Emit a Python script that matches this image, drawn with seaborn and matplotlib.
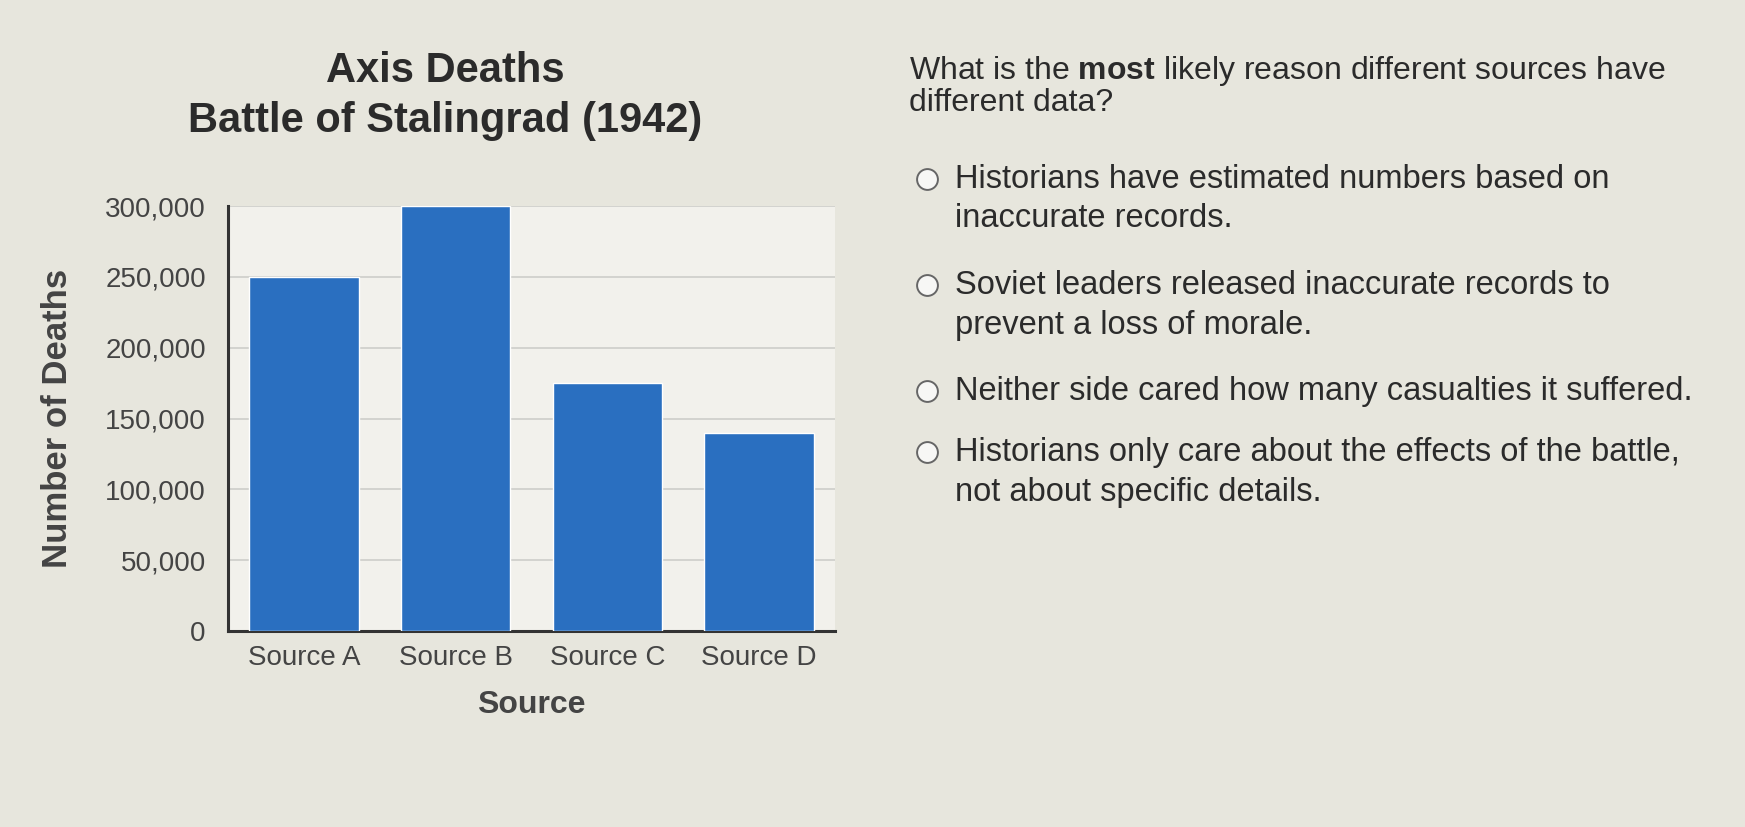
import numpy as np
import matplotlib as mpl
mpl.use('Agg')

import matplotlib.pyplot as plt
from matplotlib.lines import Line2D
from matplotlib.ticker import FuncFormatter
import pandas as pd
import seaborn as sns

# chart data
sources = ["Source A", "Source B", "Source C", "Source D"]
deaths = [250000, 300000, 175000, 140000]
y_ticks = [0, 50000, 100000, 150000, 200000, 250000, 300000]

question = ["What is the $\\bf{most}$ likely reason different sources have",
            "different data?"]
options = [
    ["Historians have estimated numbers based on", "inaccurate records."],
    ["Soviet leaders released inaccurate records to", "prevent a loss of morale."],
    ["Neither side cared how many casualties it suffered."],
    ["Historians only care about the effects of the battle,", "not about specific details."],
]

W, H = 1745, 827
bg = '#e7e6dd'
text_col = '#2b2b2b'

sns.set_style("white")
plt.rcParams['font.family'] = ['Liberation Sans', 'DejaVu Sans']
plt.rcParams['mathtext.fontset'] = 'custom'
plt.rcParams['mathtext.rm'] = 'Liberation Sans'
plt.rcParams['mathtext.bf'] = 'Liberation Sans:bold'

fig = plt.figure(figsize=(W / 100, H / 100), dpi=100)
fig.patch.set_facecolor(bg)

ax = fig.add_axes([228 / W, 1 - 631 / H, (835 - 228) / W, (631 - 206) / H])
ax.set_facecolor('#f2f1ec')

df = pd.DataFrame({"Source": sources, "Deaths": deaths})
sns.barplot(data=df, x="Source", y="Deaths", color='#2a6fc0', saturation=1,
            width=0.72, ax=ax, zorder=3)

ax.set_ylim(0, 300000)
ax.set_yticks(y_ticks)
ax.yaxis.set_major_formatter(FuncFormatter(lambda v, p: f"{int(v):,}"))
ax.grid(axis='y', color='#cdcdca', linewidth=1.2, zorder=0)
ax.set_axisbelow(True)
for s in ['top', 'right']:
    ax.spines[s].set_visible(False)
for s in ['left', 'bottom']:
    ax.spines[s].set_color('#333333')
    ax.spines[s].set_linewidth(2.2)
ax.tick_params(axis='y', length=0, labelsize=20, labelcolor='#444444', pad=16)
ax.tick_params(axis='x', length=0, labelsize=20, labelcolor='#444444', pad=10)

ax.set_xlabel("Source", fontsize=23, weight='bold', color='#444444', labelpad=14)
ax.set_ylabel("Number of Deaths", fontsize=25, weight='bold', color='#444444', labelpad=22)

fig.text(445 / W, 1 - 71 / H, "Axis Deaths", ha='center', va='center',
         fontsize=30, weight='bold', color=text_col)
fig.text(445 / W, 1 - 121 / H, "Battle of Stalingrad (1942)", ha='center', va='center',
         fontsize=30, weight='bold', color=text_col)

# question text on the right
qx = 909 / W
fig.text(qx, 1 - 79 / H, question[0], ha='left', va='baseline', fontsize=23, color=text_col)
fig.text(qx, 1 - 111 / H, question[1], ha='left', va='baseline', fontsize=23, color=text_col)

opt_y = [179, 285, 391, 452]
line_gap = 40
for y0, lines in zip(opt_y, options):
    fig.add_artist(Line2D([927 / W], [1 - y0 / H], marker='o', markersize=15,
                          markerfacecolor='#f7f7f5', markeredgecolor='#666666',
                          markeredgewidth=1.4, transform=fig.transFigure))
    for i, line in enumerate(lines):
        fig.text(955 / W, 1 - (y0 + i * line_gap) / H, line, ha='left', va='center',
                 fontsize=23.5, color=text_col)

plt.savefig("out.png", dpi=100, facecolor=fig.get_facecolor())
plt.close()
